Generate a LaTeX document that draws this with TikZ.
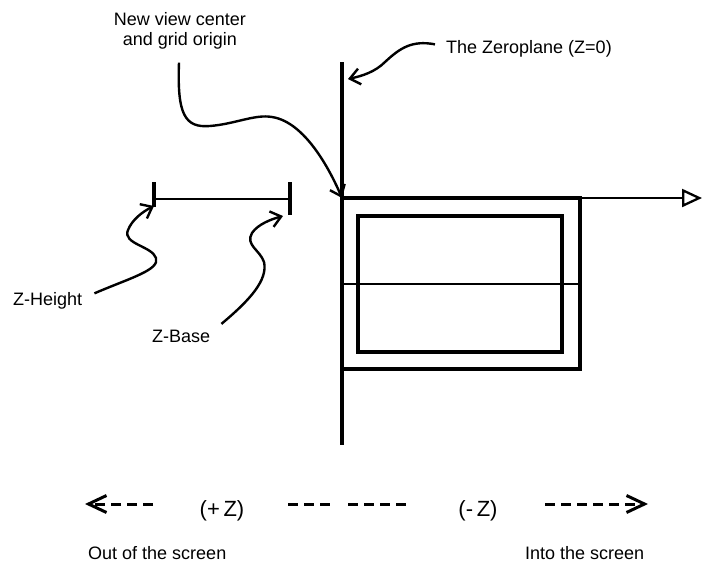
\documentclass[tikz,border=0pt]{standalone}
\usepackage{fontspec}
\setmainfont{Liberation Sans}
\usetikzlibrary{arrows.meta}

\begin{document}
\begin{tikzpicture}[x=1pt,y=-1pt,>={Straight Barb[length=10pt,width=16pt]},
  lbl/.style={inner sep=0pt,font=\fontsize{18}{20}\selectfont},
  zlbl/.style={inner sep=0pt,font=\fontsize{22}{24}\selectfont},
  heavy/.style={line width=3.2pt},
  light/.style={line width=2.3pt},
  curvy/.style={line width=2.4pt,->},
  zdashes/.style={line width=3pt,dash pattern=on 10pt off 6pt},
  zhead/.style={-{Straight Barb[length=18pt,width=17pt]}}]
\useasboundingbox (0,0) rectangle (702,563);
% zeroplane und achse
\coordinate (org) at (342,198);
\coordinate (ztop) at (342,62);
\coordinate (zbot) at (342,445);
\coordinate (axend) at (702,198);
\draw[heavy] (ztop)--(zbot);
\draw[light,-{Triangle[open,length=20pt,width=18pt]}] (org)--(axend);
% sicht
\draw[heavy] (org) rectangle (580,369);
\draw[heavy] (358,216) rectangle (562,352);
\draw[light] (342,284)--(580,284);
% z-bereich
\coordinate (zh) at (154,206);
\coordinate (zb) at (283,216);
\draw[light] (154,199)--(290,199);
\draw[heavy] (154,182)--(154,207);
\draw[heavy] (290,182)--(290,215);
% texte
\node[lbl,align=center] (vc) at (180,31) {New view center\\and grid origin};
\node[lbl,anchor=base west] (zp) at (446,53) {The Zeroplane (Z=0)};
\node[lbl,anchor=base west] (zhl) at (13,305) {Z-Height};
\node[lbl,anchor=base west] (zbl) at (152,342) {Z-Base};
\node[lbl,anchor=base west] (out) at (88,559) {Out of the screen};
\node[lbl,anchor=base west] (into) at (525,559) {Into the screen};
\node[zlbl,anchor=base] (pz) at (222,516) {(+\,Z)};
\node[zlbl,anchor=base] (mz) at (478,516) {(-\,Z)};
% pfeile
\draw[curvy] (vc.south)++(-1,13)
  .. controls (177,115) and (185,128) .. (210,126)
  .. controls (235,124) and (255,114) .. (272,117)
  .. controls (305,122) and (330,170) .. (org);
\draw[curvy] (zp.west)++(-11,-4)
  .. controls (412,40) and (400,48) .. (385,62)
  .. controls (375,72) and (362,76) .. (348,79);
\draw[curvy] (zhl.east)++(12,-7)
  .. controls (130,278) and (160,270) .. (156,258)
  .. controls (152,246) and (122,244) .. (128,230)
  .. controls (132,220) and (142,212) .. (zh);
\draw[curvy] (zbl.east)++(11,-12)
  .. controls (250,300) and (268,280) .. (264,262)
  .. controls (260,250) and (245,245) .. (252,233)
  .. controls (258,224) and (272,219) .. (zb);
% richtung
\coordinate (lt) at (85,504);
\coordinate (rt) at (648,504);
\draw[zdashes,zhead] (153,504)--(lt);
\draw[zdashes] (288,504)--(330,504);
\draw[zdashes] (348,504)--(412,504);
\draw[zdashes,zhead] (545,504)--(rt);
\end{tikzpicture}
\end{document}
